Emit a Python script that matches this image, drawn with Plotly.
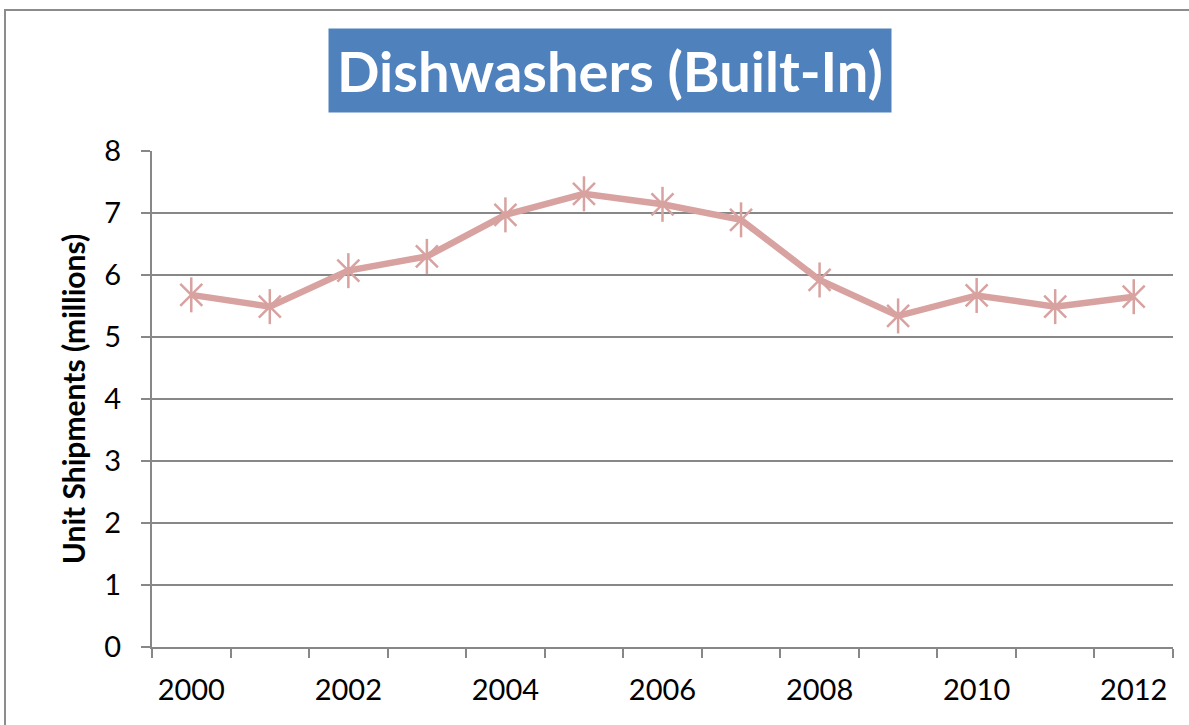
import plotly.graph_objects as go

years = [2000, 2001, 2002, 2003, 2004, 2005, 2006, 2007, 2008, 2009, 2010, 2011, 2012]
shipments = [5.68, 5.49, 6.07, 6.30, 6.97, 7.31, 7.14, 6.89, 5.92, 5.34, 5.67, 5.49, 5.65]
label_years = [2000, 2002, 2004, 2006, 2008, 2010, 2012]
y_ticks = [0, 1, 2, 3, 4, 5, 6, 7, 8]
title_text = "Dishwashers (Built-In)"
y_title = "Unit Shipments (millions)"

FONT = "Lato"
GRID = "#878787"
LINE_COLOR = "#D8A2A0"

fig = go.Figure()
fig.add_trace(go.Scatter(
    x=years, y=shipments, mode="lines+markers",
    line=dict(color=LINE_COLOR, width=6.5),
    marker=dict(symbol="x-thin-open", size=22, color=LINE_COLOR,
                line=dict(color=LINE_COLOR, width=2.5)),
    showlegend=False, hoverinfo="x+y",
))
fig.add_trace(go.Scatter(
    x=years, y=shipments, mode="markers",
    marker=dict(symbol="line-ns-open", size=25, color=LINE_COLOR,
                line=dict(color=LINE_COLOR, width=2.5)),
    showlegend=False, hoverinfo="skip",
))

fig.update_layout(
    width=1189, height=725,
    margin=dict(l=152, r=16, t=151, b=78),
    paper_bgcolor="white", plot_bgcolor="white",
    font=dict(family=FONT, size=29, color="#000000"),
    xaxis=dict(
        range=[1999.5, 2012.5], tickmode="array", tickvals=label_years,
        ticktext=[str(v) for v in label_years],
        ticks="", showgrid=False, showline=True, linecolor=GRID, linewidth=2,
        ticklabelstandoff=16, tickfont=dict(family=FONT, size=29),
        minor=dict(tickmode="array", tickvals=[y - 0.5 for y in years] + [2012.5],
                   ticks="outside", ticklen=9, tickcolor=GRID, tickwidth=2, showgrid=False),
        zeroline=False,
    ),
    yaxis=dict(
        range=[0, 8], tickmode="array", tickvals=y_ticks,
        ticks="outside", ticklen=9, tickcolor=GRID, tickwidth=2,
        showgrid=True, gridcolor=GRID, gridwidth=2,
        showline=True, linecolor=GRID, linewidth=2, zeroline=False,
        ticklabelstandoff=14, tickfont=dict(family=FONT, size=29),
        title=dict(text="<b>" + y_title + "</b>", font=dict(family=FONT, size=30), standoff=10),
    ),
    annotations=[dict(
        text="<b>" + title_text + "</b>", xref="paper", yref="paper",
        x=(610 - 152) / 1021, y=(647 - 71) / 496, xanchor="center", yanchor="middle",
        showarrow=False, bgcolor="#4F81BD", font=dict(family=FONT, size=56, color="white"),
        borderpad=8,
    )],
    shapes=[dict(type="rect", xref="paper", yref="paper",
                 x0=(5 - 152) / 1021, y0=-1, x1=1.5, y1=(647 - 10) / 496,
                 line=dict(color="#8C8C8C", width=2), layer="below")],
)

fig.write_html("out.html", post_script="document.body.style.margin='0px';",
               config={"displayModeBar": False})
